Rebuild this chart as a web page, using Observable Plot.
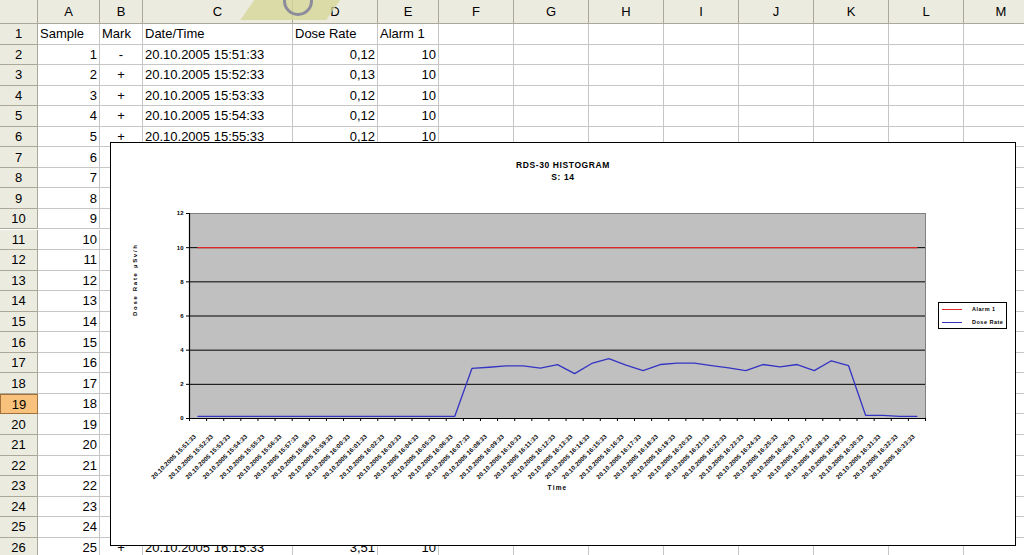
<!DOCTYPE html>
<html><head><meta charset="utf-8">
<script src="https://cdn.jsdelivr.net/npm/d3@7"></script>
<script src="https://cdn.jsdelivr.net/npm/@observablehq/plot@0.6"></script>
<style>
body{margin:0;width:1024px;height:555px;overflow:hidden;background:#fff;font-family:Arial,"Liberation Sans",sans-serif;}
#sheet{position:absolute;left:0;top:0;width:1024px;height:555px;overflow:hidden;}
.c{position:absolute;box-sizing:border-box;border-right:1px solid #c6c6c6;border-bottom:1px solid #c6c6c6;font-size:13px;white-space:nowrap;overflow:hidden;padding:0 2px;color:#000;display:flex;align-items:center;}
.h{background:#ecebe0;border-right:1px solid #aca899;border-bottom:1px solid #aca899;justify-content:center;}
.r{justify-content:flex-end;}
.m{justify-content:center;}
#clip{position:absolute;left:248px;top:-2px;width:86px;height:22px;background:rgba(214,214,150,0.75);transform:skewX(-35deg);z-index:2;}
#ring{position:absolute;left:283px;top:-14px;width:30px;height:30px;box-sizing:border-box;border:3px solid #8c8c9c;border-radius:50%;z-index:3;}
#chart{position:absolute;left:110px;top:142px;width:906px;height:404px;box-sizing:border-box;border:1px solid #000;background:#fff;z-index:5;}
#chart svg{position:absolute;left:0;top:0;}
.title{position:absolute;left:0;width:904px;text-align:center;font-weight:bold;font-size:8.5px;letter-spacing:0.6px;}
#legend{position:absolute;left:827px;top:159px;width:69px;height:27px;box-sizing:border-box;border:1px solid #000;background:#fff;}
.lg{position:absolute;left:3px;width:20px;height:0;border-top:1.3px solid;}
.lt{position:absolute;left:33px;font-size:5.5px;font-weight:bold;letter-spacing:0.5px;line-height:6px;white-space:nowrap;}
</style>
</head><body>
<div id="sheet"></div>
<div id="clip"></div><div id="ring"></div>
<div id="chart">
  <div class="title" style="top:17px;">RDS-30 HISTOGRAM</div>
  <div class="title" style="top:29px;">S: 14</div>
  <div id="legend"></div>
</div>
<script>
// ---- data ----
const samples = [1,2,3,4,5,6,7,8,9,10,11,12,13,14,15,16,17,18,19,20,21,22,23,24,25,26,27,28,29,30,31,32,33,34,35,36,37,38,39,40,41,42,43];
const marks = ["-","+","+","+","+","+","+","+","+","+","+","+","+","+","+","+","+","+","+","+","+","+","+","+","+","+","+","+","+","+","+","+","+","+","+","+","+","+","+","+","+","+","+"];
const times = [
"20.10.2005 15:51:33","20.10.2005 15:52:33","20.10.2005 15:53:33","20.10.2005 15:54:33","20.10.2005 15:55:33",
"20.10.2005 15:56:33","20.10.2005 15:57:33","20.10.2005 15:58:33","20.10.2005 15:59:33","20.10.2005 16:00:33",
"20.10.2005 16:01:33","20.10.2005 16:02:33","20.10.2005 16:03:33","20.10.2005 16:04:33","20.10.2005 16:05:33",
"20.10.2005 16:06:33","20.10.2005 16:07:33","20.10.2005 16:08:33","20.10.2005 16:09:33","20.10.2005 16:10:33",
"20.10.2005 16:11:33","20.10.2005 16:12:33","20.10.2005 16:13:33","20.10.2005 16:14:33","20.10.2005 16:15:33",
"20.10.2005 16:16:33","20.10.2005 16:17:33","20.10.2005 16:18:33","20.10.2005 16:19:33","20.10.2005 16:20:33",
"20.10.2005 16:21:33","20.10.2005 16:22:33","20.10.2005 16:23:33","20.10.2005 16:24:33","20.10.2005 16:25:33",
"20.10.2005 16:26:33","20.10.2005 16:27:33","20.10.2005 16:28:33","20.10.2005 16:29:33","20.10.2005 16:30:33",
"20.10.2005 16:31:33","20.10.2005 16:32:33","20.10.2005 16:33:33"];
const doseRate = [0.12,0.13,0.12,0.12,0.12,0.13,0.12,0.12,0.13,0.12,0.13,0.12,0.12,0.13,0.12,0.13,
  2.93,3.00,3.08,3.08,2.95,3.15,2.63,3.22,3.51,3.12,2.80,3.16,3.24,3.24,3.10,2.96,2.80,3.16,3.02,3.16,2.80,3.38,3.10,
  0.19,0.18,0.13,0.13];
const alarm1 = [10,10,10,10,10,10,10,10,10,10,10,10,10,10,10,10,10,10,10,10,10,10,10,10,10,10,10,10,10,10,10,10,10,10,10,10,10,10,10,10,10,10,10];
const yTicks = [0,2,4,6,8,10,12];
const gridValues = [2,4,6,8,10];
const columnLetters = ["A","B","C","D","E","F","G","H","I","J","K","L","M"];
const headers = ["Sample","Mark","Date/Time","Dose Rate","Alarm 1"];
const yTitle = "Dose Rate µSv/h";
const xTitle = "Time";
const seriesNames = ["Alarm 1","Dose Rate"];
const seriesColors = ["#e02828","#3434c4"];

// ---- spreadsheet background ----
const colX = [0,38,100,143,293,378,439,514,589,664,739,814,889,964,1039];
const headH = 24, rowH = 20.55, nRows = 26, activeRow = 19;
const chartTop = 142, chartBottom = 546, chartLeft = 110;
const sheet = document.getElementById("sheet");
function cell(x, y, w, h, txt, cls, extra) {
  const d = document.createElement("div");
  d.className = "c " + (cls || "");
  d.style.left = x + "px"; d.style.top = y + "px";
  d.style.width = w + "px"; d.style.height = h + "px";
  if (extra) Object.assign(d.style, extra);
  d.textContent = txt;
  sheet.appendChild(d);
}
cell(0, 0, colX[1], headH, "", "h");
columnLetters.forEach((L, j) => cell(colX[j+1], 0, colX[j+2]-colX[j+1], headH, L, "h"));
for (let r = 1; r <= nRows; r++) {
  const y = headH + (r-1)*rowH;
  cell(0, y, colX[1], rowH, String(r), "h", r === activeRow ? {background:"#f8c27c", border:"1px solid #a0713a"} : null);
  const vals = r === 1 ? headers.map(t => [t, ""]) : (() => {
    const k = r - 2;
    return [[String(samples[k]), "r"], [marks[k], "m"], [times[k], ""],
            [doseRate[k].toFixed(2).replace(".", ","), "r"], [String(alarm1[k]), "r"]];
  })();
  for (let j = 0; j < columnLetters.length; j++) {
    const v = vals[j] || ["", ""];
    const x0 = colX[j+1];
    const hidden = x0 >= chartLeft - 10 && y >= chartTop && y + rowH <= chartBottom;
    cell(x0, y, colX[j+2]-x0, rowH, hidden ? "" : v[0], v[1]);
  }
}

// ---- chart ----
const data = times.map((t, i) => ({i, t, dose: doseRate[i], alarm: alarm1[i]}));
const font = "Arial, 'Liberation Sans', sans-serif";
const chart = Plot.plot({
  width: 904, height: 402,
  marginLeft: 78, marginRight: 90, marginTop: 70, marginBottom: 127,
  style: {fontFamily: font, fontSize: "6px", fontWeight: "bold", background: "transparent", overflow: "visible", color: "#000"},
  x: {type: "linear", domain: [0, times.length], axis: null},
  y: {domain: [0, 12], axis: null},
  marks: [
    Plot.frame({fill: "#c0c0c0"}),
    Plot.ruleY(gridValues, {stroke: "#000", strokeWidth: 1}),
    Plot.frame({stroke: "#808080"}),
    Plot.line(data, {x: d => d.i + 0.5, y: "alarm", stroke: seriesColors[0], strokeWidth: 1.3}),
    Plot.line(data, {x: d => d.i + 0.5, y: "dose", stroke: seriesColors[1], strokeWidth: 1.3}),
    Plot.ruleX([0], {stroke: "#000", strokeWidth: 1.2}),
    Plot.ruleY([0], {stroke: "#000", strokeWidth: 1.2}),
    Plot.axisY(yTicks, {tickSize: 3, tickPadding: 3, label: null, fontSize: 6, fontWeight: "bold"}),
    Plot.axisX(d3.range(times.length + 1), {tickSize: 3, tickFormat: () => "", label: null}),
    Plot.text(data, {x: d => d.i + 0.5, y: () => 0, text: "t", rotate: -45, textAnchor: "end", dx: -3, dy: 17, fontSize: 6.2, fontWeight: "bold"}),
    Plot.text([yTitle], {frameAnchor: "left", rotate: -90, dx: -54, fontSize: 6, fontWeight: "bold"}),
    Plot.text([xTitle], {frameAnchor: "bottom", dy: 71, fontSize: 6.5, fontWeight: "bold"})
  ]
});
const chartDiv = document.getElementById("chart");
chartDiv.insertBefore(chart, chartDiv.firstChild);
const textGroups = d3.select(chart).selectAll('g[aria-label="text"]').nodes();
if (textGroups.length >= 3) {
  d3.select(textGroups[0]).selectAll("text").style("letter-spacing", "0.15px");
  d3.select(textGroups[1]).selectAll("text").style("letter-spacing", "1.7px");
  d3.select(textGroups[2]).selectAll("text").style("letter-spacing", "1.2px");
}

// ---- legend ----
const legend = document.getElementById("legend");
seriesNames.forEach((name, k) => {
  const ln = document.createElement("div");
  ln.className = "lg"; ln.style.top = (6 + k*13) + "px"; ln.style.borderTopColor = seriesColors[k];
  legend.appendChild(ln);
  const tx = document.createElement("div");
  tx.className = "lt"; tx.style.top = (3 + k*13) + "px"; tx.textContent = name;
  legend.appendChild(tx);
});
</script>
</body></html>
